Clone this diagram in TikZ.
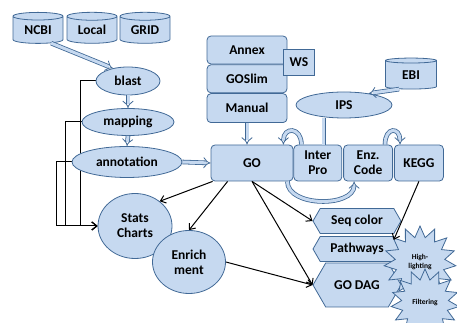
\documentclass[tikz,border=0pt]{standalone}
\usepackage{fontspec}
\setmainfont{Carlito}
\usetikzlibrary{shapes.geometric,shapes.symbols,arrows.meta,positioning,backgrounds}
\definecolor{boxfill}{RGB}{198,217,240}
\definecolor{boxline}{RGB}{65,105,150}

\begin{document}
\begin{tikzpicture}[x=1pt,y=1pt,font=\bfseries\fontsize{13.5}{15}\selectfont]

    \tikzset{
      db/.style={
        cylinder,
        shape border rotate=90,
        aspect=0.28,
        draw=boxline,
        fill=boxfill,
        thick,
        inner sep=0pt,
        minimum width=50pt,
        minimum height=31pt,
      },
      oval/.style={ellipse, draw=boxline, fill=boxfill, thick, inner sep=0pt},
      box/.style={rectangle, rounded corners=4pt, draw=boxline, fill=boxfill, thick, inner sep=0pt, align=center},
      tag/.style={signal, signal to=east and west, signal pointer angle=120, draw=boxline, fill=boxfill, thick, inner sep=0pt, minimum width=88pt},
      burst/.style={star, star points=15, star point ratio=1.45, draw=boxline, fill=boxfill, thick, inner sep=0pt, minimum size=72pt, align=center, font=\bfseries\fontsize{7.5}{9}\selectfont},
      fat/.style={draw=boxline, double=boxfill, double distance=3pt, line width=0.8pt},
      fatarrow/.style={fat, -Implies},
      link/.style={-{Straight Barb[length=5pt,width=8pt]}, line width=1pt},
    }
    \useasboundingbox (0,0) rectangle (457,323);

	\node[db] (ncbi) at (38,293) {NCBI};
	\node[db] (local) at (92,293) {Local};
	\node[db] (grid) at (145,293) {GRID};
	\node[oval, minimum width=64pt, minimum height=28pt] (blast) at (128,242) {blast};
	\node[oval, minimum width=92pt, minimum height=27pt] (mapping) at (128,201) {mapping};
	\node[oval, minimum width=110pt, minimum height=31pt] (annotation) at (127,161) {annotation};

	\node[box, minimum width=80pt, minimum height=28pt] (annex) at (247,273) {Annex};
	\node[box, minimum width=80pt, minimum height=28pt, below=0pt of annex] (goslim) {GOSlim};
	\node[box, minimum width=80pt, minimum height=29pt, below=0pt of goslim] (manual) {Manual};
	\node[draw=boxline, fill=boxfill, thick, minimum width=31pt, minimum height=26pt, inner sep=0pt] (ws) at (299,261) {WS};

	\node[db, minimum width=51pt] (ebi) at (411,248) {EBI};
	\node[oval, minimum width=96pt, minimum height=26pt] (ips) at (344,218) {IPS};

	\node[box, minimum width=82pt, minimum height=36pt] (go) at (252,160) {GO};
	\node[box, minimum width=48pt, minimum height=36pt, right=0pt of go] (interpro) {Inter\\Pro};
	\node[box, minimum width=49pt, minimum height=36pt, right=1pt of interpro] (enzcode) {Enz.\\Code};
	\node[box, minimum width=49pt, minimum height=36pt, right=1pt of enzcode] (kegg) {KEGG};

	\node[oval, minimum width=74pt, minimum height=65pt, align=center] (stats) at (135,97) {Stats\\Charts};
	\node[oval, minimum width=73pt, minimum height=63pt, align=center] (enrich) at (189,61) {Enrich\\ment};

	\node[tag, minimum height=25pt] (seqcolor) at (357,102) {Seq color};
	\node[tag, minimum height=25pt] (pathways) at (357,74) {Pathways};
	\node[tag, minimum height=44pt] (godag) at (357,38) {GO DAG};
	\node[burst] (highlight) at (420,61) {High-\\lighting};
	\node[burst, minimum size=68pt] (filtering) at (425,20) {Filtering};

	\draw[fatarrow] (ncbi.-45) -- (blast.140);
	\draw[fatarrow] (blast.south) -- (mapping.north);
	\draw[fatarrow] (mapping.south) -- (annotation.north);
	\draw[fatarrow] (annotation.east) -- (go.west);
	\draw[fatarrow] (manual.south) -- (manual.south |- go.north);
	\draw[fatarrow] (ebi.-130) -- (ips.25);
	\draw[fat] ([xshift=6pt]interpro.north |- ips.south) -- ([xshift=6pt]interpro.north);
	\draw[fatarrow] ([xshift=8pt]interpro.north west) .. controls +(0,18) and +(0,18) .. ([xshift=-10pt]go.north east);
	\draw[fatarrow] ([xshift=-8pt]enzcode.north east) .. controls +(0,18) and +(0,18) .. ([xshift=6pt]kegg.north west);
	\draw[fatarrow] ([xshift=-6pt]go.south east) .. controls +(0,-26) and +(0,-26) .. ([xshift=-14pt]enzcode.south);

	\draw[link] ([xshift=2pt]go.south west) -- (stats.45);
	\draw[link] ([xshift=17pt]go.south west) -- (enrich.north);
	\draw[link] (go.south) -- (seqcolor.west);
	\draw[link] (go.south) -- (godag.west);
	\draw[link] (enrich.east) -- (godag.west);
	\draw[link] (kegg.south) -- (highlight.140);

	\begin{pgfonlayer}{background}
	\draw[link] (blast.west) -- ++(-15,0) |- (stats.west);
	\draw[link] (mapping.west) -- ++(-16,0) |- (stats.west);
	\draw[link] (annotation.west) -- ++(-15,0) |- (stats.west);
	\end{pgfonlayer}

\end{tikzpicture}
\end{document}
